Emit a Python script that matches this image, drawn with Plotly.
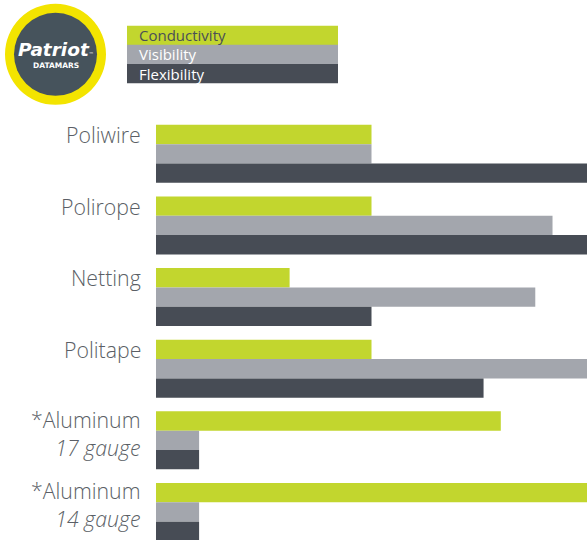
import plotly.graph_objects as go

# ---- data ----
categories = ["Poliwire", "Polirope", "Netting", "Politape", "*Aluminum 17 gauge", "*Aluminum 14 gauge"]
label_main = ["Poliwire", "Polirope", "Netting", "Politape", "*Aluminum", "*Aluminum"]
label_sub = ["", "", "", "", "17 gauge", "14 gauge"]
series_names = ["Conductivity", "Visibility", "Flexibility"]
conductivity = [5, 5, 3.1, 5, 8, 10]
visibility = [5, 9.2, 8.8, 10, 1, 1]
flexibility = [10, 10, 5, 7.6, 1, 1]

colors = ["#c2d62e", "#a3a6ad", "#474c55"]
legend_text_colors = ["#4a4f57", "#ffffff", "#ffffff"]

W, H = 587, 540
ML, MR, MT, MB = 156, 0, 118.2, 0
PW, PH = W - ML - MR, H - MT - MB


def px_x(px):
    return (px - ML) / PW


def px_y(py):
    return (H - MB - py) / PH


fig = go.Figure()
for name, vals, col in zip(series_names, [conductivity, visibility, flexibility], colors):
    fig.add_trace(go.Bar(
        y=categories, x=vals, name=name, orientation="h",
        marker=dict(color=col, line=dict(width=0)),
        showlegend=False, hoverinfo="x+name",
    ))

annotations = []
shapes = []
label_font = dict(family="Open Sans", size=21.3, color="#5b5f66", weight=300)
for i, (m, s) in enumerate(zip(label_main, label_sub)):
    if s:
        annotations.append(dict(
            xref="paper", yref="y", x=px_x(143), y=i - 0.27, yshift=-12,
            text=m + "<br><i>" + s + "</i>", showarrow=False,
            xanchor="right", yanchor="middle", align="right",
            font=label_font,
        ))
    else:
        annotations.append(dict(
            xref="paper", yref="y", x=px_x(143), y=i - 0.27,
            text=m, showarrow=False, xanchor="right", yanchor="middle",
            font=label_font,
        ))

# legend blocks
leg_tops = [26, 45, 64.3]
leg_h = 19.2
for name, col, tcol, top in zip(series_names, colors, legend_text_colors, leg_tops):
    shapes.append(dict(
        type="rect", xref="paper", yref="paper",
        x0=px_x(127), x1=px_x(338), y0=px_y(top + leg_h), y1=px_y(top),
        fillcolor=col, line=dict(width=0), layer="above",
    ))
    annotations.append(dict(
        xref="paper", yref="paper", x=px_x(137), y=px_y(top + leg_h / 2),
        text=name, showarrow=False, xanchor="left", yanchor="middle",
        font=dict(family="Open Sans", size=15, color=tcol),
    ))

# logo
cx, cy, r_out, r_in = 55.5, 54.5, 50.5, 41.5
shapes.append(dict(
    type="circle", xref="paper", yref="paper",
    x0=px_x(cx - r_out), x1=px_x(cx + r_out), y0=px_y(cy + r_out), y1=px_y(cy - r_out),
    fillcolor="#f3e400", line=dict(width=0), layer="above",
))
shapes.append(dict(
    type="circle", xref="paper", yref="paper",
    x0=px_x(cx - r_in), x1=px_x(cx + r_in), y0=px_y(cy + r_in), y1=px_y(cy - r_in),
    fillcolor="#46535c", line=dict(width=0), layer="above",
))
annotations.append(dict(
    xref="paper", yref="paper", x=px_x(cx), y=px_y(50),
    text="<b><i>Patriot</i></b><span style='font-size:5px'>™</span>", showarrow=False,
    xanchor="center", yanchor="middle",
    font=dict(family="DejaVu Sans", size=18.5, color="#ffffff"),
))
annotations.append(dict(
    xref="paper", yref="paper", x=px_x(cx), y=px_y(65.5),
    text="<b>DATAMARS</b>", showarrow=False,
    xanchor="center", yanchor="middle",
    font=dict(family="DejaVu Sans", size=7.5, color="#ffffff"),
))

fig.update_layout(
    width=W, height=H,
    margin=dict(l=ML, r=MR, t=MT, b=MB, pad=0),
    barmode="group", bargap=0.19, bargroupgap=0,
    paper_bgcolor="#ffffff", plot_bgcolor="#ffffff",
    xaxis=dict(range=[0, 10], visible=False, fixedrange=True),
    yaxis=dict(type="category", categoryorder="array", categoryarray=categories,
               range=[5.391, -0.5], visible=False, fixedrange=True),
    annotations=annotations, shapes=shapes,
    showlegend=False,
)

fig.write_html(
    "out.html",
    config={"displayModeBar": False},
    post_script="document.body.style.margin='0';document.body.style.overflow='hidden';",
)
